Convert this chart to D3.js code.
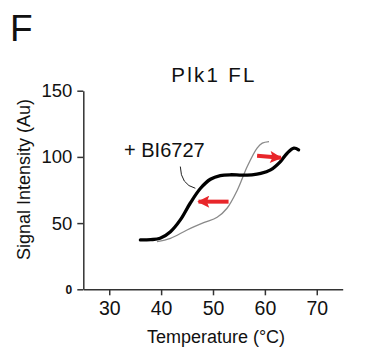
<!DOCTYPE html>
<html>
<head>
<meta charset="utf-8">
<script src="https://cdn.jsdelivr.net/npm/d3@7"></script>
<style>
  body { margin: 0; background: #fff; }
  text { font-family: "Liberation Sans", Arial, sans-serif; fill: #111; }
</style>
</head>
<body>
<div id="chart"></div>
<script>
// melting curves (temperature in °C, signal in Au)
const boundTemp = [36, 38, 39.8, 41.8, 43.7, 45.6, 47.6, 49.5, 51.4, 53.5, 55.5, 57.5, 59.2, 61.1, 63.0, 64.3, 65.6, 66.5];
const boundSignal = [37.3, 37.5, 38.5, 43.5, 52.4, 65, 76.3, 83.1, 85.9, 86.5, 86.2, 86.5, 87.5, 90.2, 96.5, 102.8, 106.6, 105.3];

const apoTemp = [39.2, 41.8, 45, 48.2, 50.8, 52.7, 54.7, 56.6, 58.5, 59.5, 60.8];
const apoSignal = [36, 38.5, 44.8, 50.3, 54.4, 61.2, 75, 92.7, 106.6, 110.4, 111.6];

// shift arrows: [x start, y start, x end, y end]
const shiftArrows = [
  [53, 66.2, 47.2, 66.2],
  [58.5, 100.8, 63.1, 99.3],
];

const xTicks = [30, 40, 50, 60, 70];
const yTicks = [0, 50, 100, 150];

const W = 373, H = 351;

const svg = d3
  .select("#chart")
  .append("svg")
  .attr("width", W)
  .attr("height", H);

const x = d3.scaleLinear().domain([25, 75]).range([83.3, 342.7]);
const y = d3.scaleLinear().domain([0, 150]).range([289.3, 90.7]);

// panel letter and title
svg.append("text").attr("x", 10).attr("y", 40.7)
  .style("font-size", "37px").text("F");

svg.append("text").attr("x", 214).attr("y", 81.7)
  .attr("text-anchor", "middle")
  .style("font-size", "20.5px").style("letter-spacing", "2.3px")
  .text("Plk1 FL");

// x axis
const xAxis = svg.append("g")
  .attr("transform", "translate(0," + y(0) + ")")
  .call(d3.axisBottom(x).tickValues(xTicks).tickSize(6).tickSizeOuter(0).tickPadding(6));
xAxis.selectAll("text").style("font-size", "19.5px").style("font-family", "Liberation Sans, Arial, sans-serif").attr("fill", "#111");

// y axis
const yAxis = svg.append("g")
  .attr("transform", "translate(" + x(25) + ",0)")
  .call(d3.axisLeft(y).tickValues(yTicks).tickSize(6).tickSizeOuter(0).tickPadding(5));
yAxis.selectAll("text").style("font-size", "18.5px").style("font-family", "Liberation Sans, Arial, sans-serif").attr("fill", "#111");
// the zero label is small and bold in the original
yAxis.selectAll(".tick text").filter((d) => d === 0)
  .style("font-size", "12px").style("font-weight", "bold");

svg.selectAll(".domain, .tick line").attr("stroke", "#333").attr("stroke-width", 1.5);

// axis titles
svg.append("text")
  .attr("transform", "translate(30," + 179.5 + ") rotate(-90)")
  .attr("text-anchor", "middle")
  .style("font-size", "18px")
  .text("Signal Intensity (Au)");

svg.append("text").attr("x", 216).attr("y", 343)
  .attr("text-anchor", "middle")
  .style("font-size", "18px")
  .text("Temperature (°C)");

// curves
const line = d3.line()
  .x((d) => x(d[0]))
  .y((d) => y(d[1]))
  .curve(d3.curveCatmullRom.alpha(0.5));

svg.append("path")
  .datum(d3.zip(apoTemp, apoSignal))
  .attr("fill", "none")
  .attr("stroke", "#8a8a8a")
  .attr("stroke-width", 1.3)
  .attr("d", line);

svg.append("path")
  .datum(d3.zip(boundTemp, boundSignal))
  .attr("fill", "none")
  .attr("stroke", "#000")
  .attr("stroke-width", 3.3)
  .attr("stroke-linecap", "round")
  .attr("d", line);

// label with leader line
svg.append("text").attr("x", 124).attr("y", 156.7)
  .style("font-size", "20px").text("+ BI6727");

const leader = d3.path();
leader.moveTo(x(43.7), y(92.7));
leader.quadraticCurveTo(x(43.8), y(79), x(46.6), y(76.3));
svg.append("path")
  .attr("d", leader.toString())
  .attr("fill", "none")
  .attr("stroke", "#222")
  .attr("stroke-width", 1);

// red arrows
const red = "#e8262a";
svg.append("defs").append("marker")
  .attr("id", "head")
  .attr("viewBox", "0 0 10 10")
  .attr("refX", 9)
  .attr("refY", 5)
  .attr("markerUnits", "userSpaceOnUse")
  .attr("markerWidth", 14)
  .attr("markerHeight", 12)
  .attr("orient", "auto")
  .append("path")
  .attr("d", "M0,0 L10,5 L0,10 L2,5 Z")
  .attr("fill", red);

svg.selectAll(".arrow")
  .data(shiftArrows)
  .enter()
  .append("line")
  .attr("class", "arrow")
  .attr("x1", (d) => x(d[0]))
  .attr("y1", (d) => y(d[1]))
  .attr("x2", (d) => x(d[2]))
  .attr("y2", (d) => y(d[3]))
  .attr("stroke", red)
  .attr("stroke-width", 4)
  .attr("marker-end", "url(#head)");
</script>
</body>
</html>
